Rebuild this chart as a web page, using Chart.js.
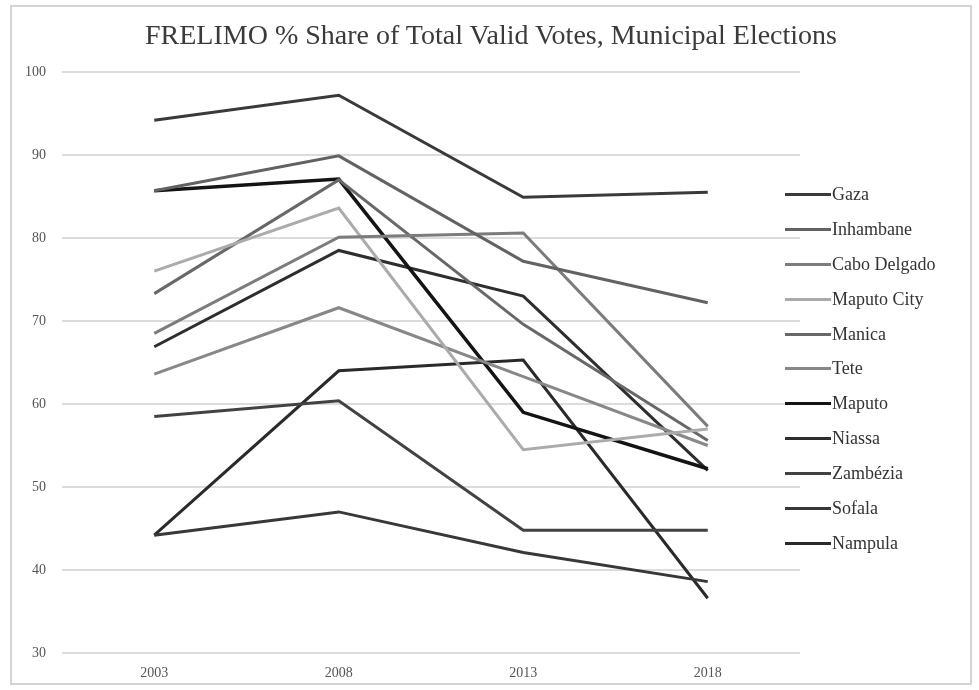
<!DOCTYPE html>
<html>
<head>
<meta charset="utf-8">
<script src="https://cdn.jsdelivr.net/npm/chart.js@4.4.1/dist/chart.umd.min.js"></script>
<style>
  body { margin: 0; background: #fff; }
  #frame {
    position: absolute; left: 10px; top: 5px;
    width: 958px; height: 676px;
    border: 2px solid #d4d4d4; background: #fff;
  }
  #title {
    position: absolute; left: 0; top: 12px; width: 958px;
    text-align: center;
    font-family: "Liberation Serif", serif; font-size: 28px; color: #3a3a3a;
  }
  #legend {
    position: absolute; left: 773px; top: 170px;
    list-style: none; margin: 0; padding: 0;
    font-family: "Liberation Serif", serif; font-size: 18px; color: #333;
  }
  #legend li { height: 34.9px; display: flex; align-items: center; }
  #legend span.mark { display: inline-block; width: 46px; margin-right: 1px; }
  canvas { position: absolute; left: 0; top: 0; }
</style>
</head>
<body>
<div id="frame">
  <canvas id="myChart" width="958" height="676"></canvas>
  <div id="title">FRELIMO % Share of Total Valid Votes, Municipal Elections</div>
  <ul id="legend"></ul>
</div>
<script>
const years = ["2003", "2008", "2013", "2018"];
const yTicks = [30, 40, 50, 60, 70, 80, 90, 100];

const gaza = [94.2, 97.2, 84.9, 85.5];
const inhambane = [85.7, 89.9, 77.2, 72.2];
const caboDelgado = [68.5, 80.1, 80.6, 57.3];
const maputoCity = [76.0, 83.6, 54.5, 57.0];
const manica = [73.3, 87.0, 69.6, 55.6];
const tete = [63.6, 71.6, 63.3, 55.0];
const maputo = [85.7, 87.1, 59.0, 52.2];
const niassa = [66.9, 78.5, 73.0, 52.0];
const zambezia = [58.5, 60.4, 44.8, 44.8];
const sofala = [44.2, 47.0, 42.1, 38.6];
const nampula = [44.2, 64.0, 65.3, 36.6];

const series = [
  { label: "Gaza", data: gaza, color: "#3a3a3a", width: 3 },
  { label: "Inhambane", data: inhambane, color: "#626262", width: 3 },
  { label: "Cabo Delgado", data: caboDelgado, color: "#7c7c7c", width: 3 },
  { label: "Maputo City", data: maputoCity, color: "#ababab", width: 3 },
  { label: "Manica", data: manica, color: "#686868", width: 3 },
  { label: "Tete", data: tete, color: "#888888", width: 3 },
  { label: "Maputo", data: maputo, color: "#141414", width: 3.5 },
  { label: "Niassa", data: niassa, color: "#2e2e2e", width: 3 },
  { label: "Zambézia", data: zambezia, color: "#424242", width: 3 },
  { label: "Sofala", data: sofala, color: "#383838", width: 3 },
  { label: "Nampula", data: nampula, color: "#2a2a2a", width: 3 }
];

const serif = "'Liberation Serif', 'DejaVu Serif', serif";

const chart = new Chart(document.getElementById("myChart"), {
  type: "line",
  data: {
    labels: years,
    datasets: series.map(s => ({
      label: s.label,
      data: s.data,
      borderColor: s.color,
      backgroundColor: s.color,
      borderWidth: s.width,
      pointRadius: 0,
      tension: 0,
      fill: false
    }))
  },
  options: {
    responsive: false,
    animation: false,
    layout: { padding: { left: 0, right: 170, top: 65, bottom: 0 } },
    plugins: {
      legend: { display: false },
      tooltip: { enabled: false }
    },
    scales: {
      x: {
        offset: true,
        grid: { display: false, drawTicks: false },
        border: { display: false },
        ticks: { color: "#555", font: { family: serif, size: 14 }, padding: 12 },
        afterFit: s => { s.height = 30; }
      },
      y: {
        min: 30,
        max: 100,
        afterBuildTicks: s => { s.ticks = yTicks.map(v => ({ value: v })); },
        grid: { color: "#dcdcdc", lineWidth: 2, drawTicks: false },
        border: { display: false },
        ticks: { color: "#555", font: { family: serif, size: 14 }, padding: 16 },
        afterFit: s => { s.width = 50; }
      }
    }
  }
});

const legend = document.getElementById("legend");
chart.data.datasets.forEach(ds => {
  const li = document.createElement("li");
  const mark = document.createElement("span");
  mark.className = "mark";
  mark.style.borderTop = ds.borderWidth + "px solid " + ds.borderColor;
  li.appendChild(mark);
  li.appendChild(document.createTextNode(ds.label));
  legend.appendChild(li);
});
</script>
</body>
</html>
